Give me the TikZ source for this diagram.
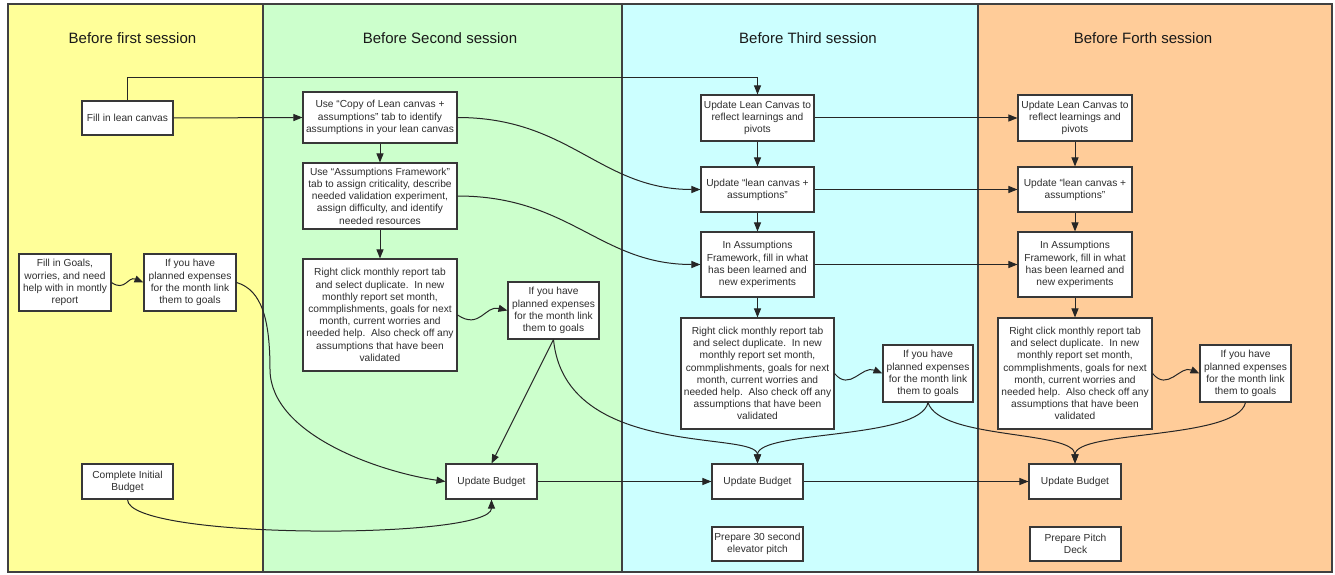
\documentclass[tikz,border=0pt]{standalone}
\usepackage{fontspec}
\setmainfont{Liberation Sans}
\usetikzlibrary{arrows.meta}
\definecolor{laneY}{HTML}{FFFF99}
\definecolor{laneG}{HTML}{CCFFCC}
\definecolor{laneC}{HTML}{CCFFFF}
\definecolor{laneO}{HTML}{FFCC99}
\definecolor{txt}{HTML}{2E2E2E}
\begin{document}
\begin{tikzpicture}[x=1pt,y=-1pt,
  bx/.style 2 args={draw=black!78, line width=1.1pt, fill=white, minimum width=#1pt, minimum height=#2pt, inner sep=0pt, align=center, font=\fontsize{10.2}{12.2}\selectfont, text=txt},
  arr/.style={draw=black!85, line width=1pt, -{Triangle[length=9pt,width=7pt]}},
  ttl/.style={font=\fontsize{15}{18}\selectfont, text=black!90}]
\useasboundingbox (0,0) rectangle (1335,575);
\fill[white] (0,0) rectangle (1335,575);
% lanes
\fill[laneY] (8,4) rectangle (263,572);
\fill[laneG] (263,4) rectangle (622,572);
\fill[laneC] (622,4) rectangle (978,572);
\fill[laneO] (978,4) rectangle (1332,572);
\draw[line width=1.3pt, black!75] (8,4) rectangle (1332,572);
\draw[line width=1.3pt, black!75] (263,4) -- (263,572) (622,4) -- (622,572) (978,4) -- (978,572);
% titles
\node[ttl] (t1) at (132.5,38) {Before first session};
\node[ttl] (t2) at (440,38) {Before Second session};
\node[ttl] (t3) at (808,38) {Before Third session};
\node[ttl] (t4) at (1143,38) {Before Forth session};
% first lane
\node[bx={91}{34}] (a1) at (127.5,118) {Fill in lean canvas};
\node[bx={92}{57}] (a2) at (65,282.5) {Fill in Goals,\\worries, and need\\help with in montly\\report};
\node[bx={92}{57}] (a3) at (190,282.5) {If you have\\planned expenses\\for the month link\\them to goals};
\node[bx={91}{35}] (a4) at (127.5,481.5) {Complete Initial\\Budget};
% second lane
\node[bx={154}{51}] (c1) at (380,117.5) {Use “Copy of Lean canvas +\\assumptions” tab to identify\\assumptions in your lean canvas};
\node[bx={154}{66}] (c2) at (380,196) {Use “Assumptions Framework”\\tab to assign criticality, describe\\needed validation experiment,\\assign difficulty, and identify\\needed resources};
\node[bx={154}{112}] (c3) at (380,315) {Right click monthly report tab\\and select duplicate.\ \ In new\\monthly report set month,\\commplishments, goals for next\\month, current worries and\\needed help.\ \ Also check off any\\assumptions that have been\\validated};
\node[bx={91}{57}] (c4) at (553.5,310.5) {If you have\\planned expenses\\for the month link\\them to goals};
\node[bx={91}{35}] (c5) at (491.5,481.5) {Update Budget};
% third lane
\node[bx={113}{46}] (d1) at (757.5,118) {Update Lean Canvas to\\reflect learnings and\\pivots};
\node[bx={113}{45}] (d2) at (757.5,189.5) {Update “lean canvas +\\assumptions”};
\node[bx={113}{65}] (d3) at (757.5,264.5) {In Assumptions\\Framework, fill in what\\has been learned and\\new experiments};
\node[bx={153}{111}] (d4) at (757.5,373.5) {Right click monthly report tab\\and select duplicate.\ \ In new\\monthly report set month,\\commplishments, goals for next\\month, current worries and\\needed help.\ \ Also check off any\\assumptions that have been\\validated};
\node[bx={90}{57}] (d5) at (928,373.5) {If you have\\planned expenses\\for the month link\\them to goals};
\node[bx={91}{35}] (d6) at (757.5,481.5) {Update Budget};
\node[bx={91}{34}] (d7) at (757.5,544) {Prepare 30 second\\elevator pitch};
% fourth lane
\node[bx={114}{46}] (e1) at (1075,118) {Update Lean Canvas to\\reflect learnings and\\pivots};
\node[bx={114}{45}] (e2) at (1075,189.5) {Update “lean canvas +\\assumptions”};
\node[bx={114}{65}] (e3) at (1075,264.5) {In Assumptions\\Framework, fill in what\\has been learned and\\new experiments};
\node[bx={154}{111}] (e4) at (1075,373.5) {Right click monthly report tab\\and select duplicate.\ \ In new\\monthly report set month,\\commplishments, goals for next\\month, current worries and\\needed help.\ \ Also check off any\\assumptions that have been\\validated};
\node[bx={91}{57}] (e5) at (1245.5,373.5) {If you have\\planned expenses\\for the month link\\them to goals};
\node[bx={92}{35}] (e6) at (1075,481.5) {Update Budget};
\node[bx={91}{34}] (e7) at (1075.5,544) {Prepare Pitch\\Deck};
% connectors
\coordinate (topbend) at (757.5,78);
\draw[arr] (a1.north) |- (topbend) -- (d1.north);
\draw[arr] (a1.east) -- (c1.west);
\draw[arr] (c1.south) -- (c2.north);
\draw[arr] (c2.south) -- (c3.north);
\draw[arr] (c1.east) .. controls (570,117.5) and (600,189.5) .. (d2.west);
\draw[arr] (c2.east) .. controls (570,196) and (600,264.5) .. (d3.west);
\draw[arr] (c3.east) .. controls (480,330) and (485,305) .. (c4.west);
\draw[arr] (a2.east) .. controls (125,292) and (128,276) .. (a3.west);
\draw[arr] (a3.east) .. controls (262,290) and (270,320) .. (270,370) .. controls (271,435) and (380,472) .. (c5.west);
\draw[arr] (a4.south) .. controls (127.5,540) and (491.5,540) .. (c5.south);
\draw[arr] (c4.south) -- (c5.north);
\draw[arr] (c4.south) .. controls (565,460) and (757.5,430) .. (d6.north);
\draw[arr] (c5.east) -- (d6.west);
\draw[arr] (d1.east) -- (e1.west);
\draw[arr] (d2.east) -- (e2.west);
\draw[arr] (d3.east) -- (e3.west);
\draw[arr] (d1.south) -- (d2.north);
\draw[arr] (d2.south) -- (d3.north);
\draw[arr] (d3.south) -- (d4.north);
\draw[arr] (d4.east) .. controls (850,392) and (862,365) .. (d5.west);
\draw[arr] (d5.south) .. controls (920,440) and (757.5,430) .. (d6.north);
\draw[arr] (d5.south) .. controls (940,440) and (1075,430) .. (e6.north);
\draw[arr] (d6.east) -- (e6.west);
\draw[arr] (e1.south) -- (e2.north);
\draw[arr] (e2.south) -- (e3.north);
\draw[arr] (e3.south) -- (e4.north);
\draw[arr] (e4.east) .. controls (1168,392) and (1180,365) .. (e5.west);
\draw[arr] (e5.south) .. controls (1237,440) and (1075,430) .. (e6.north);
\end{tikzpicture}
\end{document}
